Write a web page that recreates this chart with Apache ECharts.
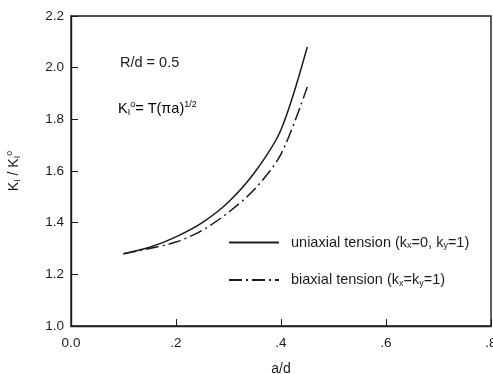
<!DOCTYPE html>
<html>
<head>
<meta charset="utf-8">
<script src="https://cdn.jsdelivr.net/npm/echarts@6/dist/echarts.min.js"></script>
<style>
  html, body { margin: 0; padding: 0; background: #fff; }
  #chart { width: 493px; height: 374px; }
</style>
</head>
<body>
<div id="chart"></div>
<script>
// Normalised crack length a/d
const crackRatio = [0.10, 0.15, 0.20, 0.25, 0.30, 0.35, 0.40, 0.45];
// Normalised stress intensity factor K_I / K_I^o
const uniaxialK = [1.28, 1.305, 1.345, 1.40, 1.48, 1.595, 1.76, 2.08];
const biaxialK  = [1.28, 1.30, 1.325, 1.37, 1.44, 1.53, 1.665, 1.925];
const xTicks = [0.0, 0.2, 0.4, 0.6, 0.8];
const yTicks = [1.0, 1.2, 1.4, 1.6, 1.8, 2.0, 2.2];

const FONT = '"Liberation Sans", Arial, Helvetica, sans-serif';
const INK = '#1c1c1c';

const pairs = (xs, ys) => xs.map((x, i) => [x, ys[i]]);

const chart = echarts.init(document.getElementById('chart'), null, { renderer: 'canvas' });

// rich-text styles for subscripts / superscripts
const rich = size => ({
  t: { fontSize: size, fontFamily: FONT, color: INK, lineHeight: 20, verticalAlign: 'middle' },
  sub: { fontSize: Math.round(size * 0.64), fontFamily: FONT, color: INK, verticalAlign: 'bottom', lineHeight: 20, padding: [0, 0, 2, 0] },
  sup: { fontSize: Math.round(size * 0.64), fontFamily: FONT, color: INK, verticalAlign: 'top', lineHeight: 20, padding: [1, 0, 0, 0] }
});

chart.setOption({
  animation: false,
  backgroundColor: '#fff',
  grid: {
    left: 71, right: 2, top: 16, bottom: 48,
    outerBoundsMode: 'none',
    show: true, borderColor: INK, borderWidth: 1.4, backgroundColor: 'transparent'
  },
  xAxis: {
    type: 'value', min: 0, max: 0.8, interval: 0.2,
    name: 'a/d', nameLocation: 'middle', nameGap: 36,
    nameTextStyle: { fontFamily: FONT, fontSize: 14, color: INK },
    axisLine: { show: true, lineStyle: { color: INK, width: 1.4 } },
    axisTick: { show: true, inside: true, length: 7, lineStyle: { color: INK, width: 1 } },
    splitLine: { show: false },
    axisLabel: {
      margin: 10, fontFamily: FONT, fontSize: 13.5, color: INK,
      formatter: v => v === 0 ? '0.0' : v.toFixed(1).replace(/^0/, '')
    }
  },
  yAxis: {
    type: 'value', min: 1.0, max: 2.2, interval: 0.2,
    name: '{t|K}{sub|I}{t| / K}{sub|I}{sup|o}',
    nameLocation: 'middle', nameGap: 47, nameRotate: 90,
    nameTextStyle: { rich: rich(14), fontFamily: FONT, fontSize: 14, color: INK },
    axisLine: { show: true, lineStyle: { color: INK, width: 1.4 } },
    axisTick: { show: true, inside: true, length: 7, lineStyle: { color: INK, width: 1 } },
    splitLine: { show: false },
    axisLabel: {
      margin: 7, fontFamily: FONT, fontSize: 13.5, color: INK,
      formatter: v => v.toFixed(1)
    }
  },
  legend: {
    orient: 'vertical', left: 228, top: 235, padding: 0,
    itemWidth: 50, itemHeight: 18, itemGap: 20,
    itemStyle: { opacity: 0 },
    textStyle: {
      fontFamily: FONT, fontSize: 14.5, color: INK, padding: [0, 0, 0, 7],
      rich: rich(14.5)
    },
    formatter: name => name === 'uniaxial'
      ? '{t|uniaxial tension (k}{sub|x}{t|=0, k}{sub|y}{t|=1)}'
      : '{t|biaxial tension (k}{sub|x}{t|=k}{sub|y}{t|=1)}',
    data: ['uniaxial', 'biaxial']
  },
  graphic: [
    {
      type: 'text', left: 120, top: 55,
      style: { text: 'R/d = 0.5', font: '14.5px ' + FONT, fill: INK }
    },
    {
      type: 'text', left: 118, top: 99,
      style: {
        text: '{t|K}{sub|I}{sup|o}{t|= T(\u03c0a)}{sup|1/2}',
        rich: rich(14.5)
      }
    }
  ],
  series: [
    {
      name: 'uniaxial', type: 'line', smooth: 0.3, symbol: 'none',
      data: pairs(crackRatio, uniaxialK),
      lineStyle: { color: INK, width: 1.5, type: 'solid' },
      itemStyle: { color: INK }
    },
    {
      name: 'biaxial', type: 'line', smooth: 0.3, symbol: 'none',
      data: pairs(crackRatio, biaxialK),
      lineStyle: { color: INK, width: 1.5, type: [13, 4, 2, 4] },
      itemStyle: { color: INK }
    }
  ]
});
</script>
</body>
</html>
